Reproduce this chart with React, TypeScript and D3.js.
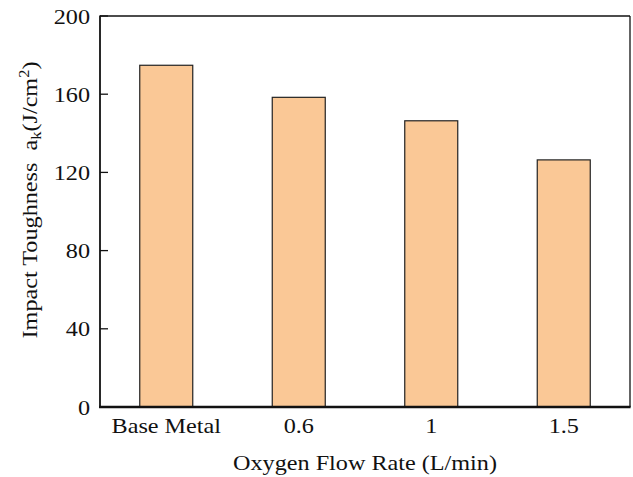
import React from "react";
import * as d3 from "d3";

const categories = ["Base Metal", "0.6", "1", "1.5"];
const toughness = [174.8, 158.4, 146.4, 126.4];
const yTicks = [0, 40, 80, 120, 160, 200];

const W = 633;
const H = 477;
const margin = { left: 100, right: 3, top: 16, bottom: 70 };
const FONT = "'Liberation Serif', 'Times New Roman', serif";
const FS = 22;
const STRETCH = 1.1;

type LabelProps = {
  x: number;
  y: number;
  anchor?: "start" | "middle" | "end";
  rotate?: number;
  baseline?: string;
  children: React.ReactNode;
};

// Serif text, slightly widened along its reading direction
function Label({ x, y, anchor = "middle", rotate = 0, baseline, children }: LabelProps) {
  return (
    <text
      transform={`translate(${x},${y}) rotate(${rotate}) scale(${STRETCH},1)`}
      textAnchor={anchor}
      dominantBaseline={baseline}
      fontSize={FS}
      fill="#111"
    >
      {children}
    </text>
  );
}

export default function App() {
  const x = d3
    .scaleBand<string>()
    .domain(categories)
    .range([margin.left, W - margin.right])
    .paddingInner(0.6)
    .paddingOuter(0.3);
  const y = d3
    .scaleLinear()
    .domain([0, 200])
    .range([H - margin.bottom, margin.top]);

  const x0 = margin.left;
  const x1 = W - margin.right;
  const y0 = H - margin.bottom;
  const y1 = margin.top;

  return (
    <svg
      width={W}
      height={H}
      style={{ position: "absolute", left: 0, top: 0, background: "#fff" }}
      fontFamily={FONT}
    >
      <rect x={0} y={0} width={W} height={H} fill="#fff" />
      {/* bars */}
      {categories.map((c, i) => (
        <rect
          key={c}
          x={x(c)!}
          y={y(toughness[i])}
          width={x.bandwidth()}
          height={y(0) - y(toughness[i])}
          fill="#FAC896"
          stroke="#222"
          strokeWidth={1.2}
        />
      ))}
      {/* frame */}
      <line x1={x0} x2={x1} y1={y1} y2={y1} stroke="#111" strokeWidth={1.3} />
      <line x1={x1} x2={x1} y1={y1} y2={y0} stroke="#111" strokeWidth={1.3} />
      <line x1={x0} x2={x0} y1={y1 - 0.6} y2={y0 + 1} stroke="#111" strokeWidth={1.8} />
      <line x1={x0 - 0.9} x2={x1 + 0.6} y1={y0} y2={y0} stroke="#111" strokeWidth={2.4} />
      {/* y ticks */}
      {yTicks.map((t) => (
        <g key={t}>
          <line x1={x0} x2={x0 + 8} y1={y(t)} y2={y(t)} stroke="#111" strokeWidth={1.3} />
          <Label x={x0 - 10} y={y(t)} anchor="end" baseline="central">
            {t}
          </Label>
        </g>
      ))}
      {/* x labels */}
      {categories.map((c) => (
        <Label key={c} x={x(c)! + x.bandwidth() / 2} y={y0 + 26}>
          {c}
        </Label>
      ))}
      <Label x={(x0 + x1) / 2} y={H - 7}>
        Oxygen Flow Rate (L/min)
      </Label>
      <Label x={37} y={200} rotate={-90}>
        Impact Toughness{"\u00a0\u00a0"}a
        <tspan fontSize={15} dy={4}>k</tspan>
        <tspan dy={-4}>(J/cm</tspan>
        <tspan fontSize={15} dy={-8}>2</tspan>
        <tspan dy={8}>)</tspan>
      </Label>
    </svg>
  );
}
